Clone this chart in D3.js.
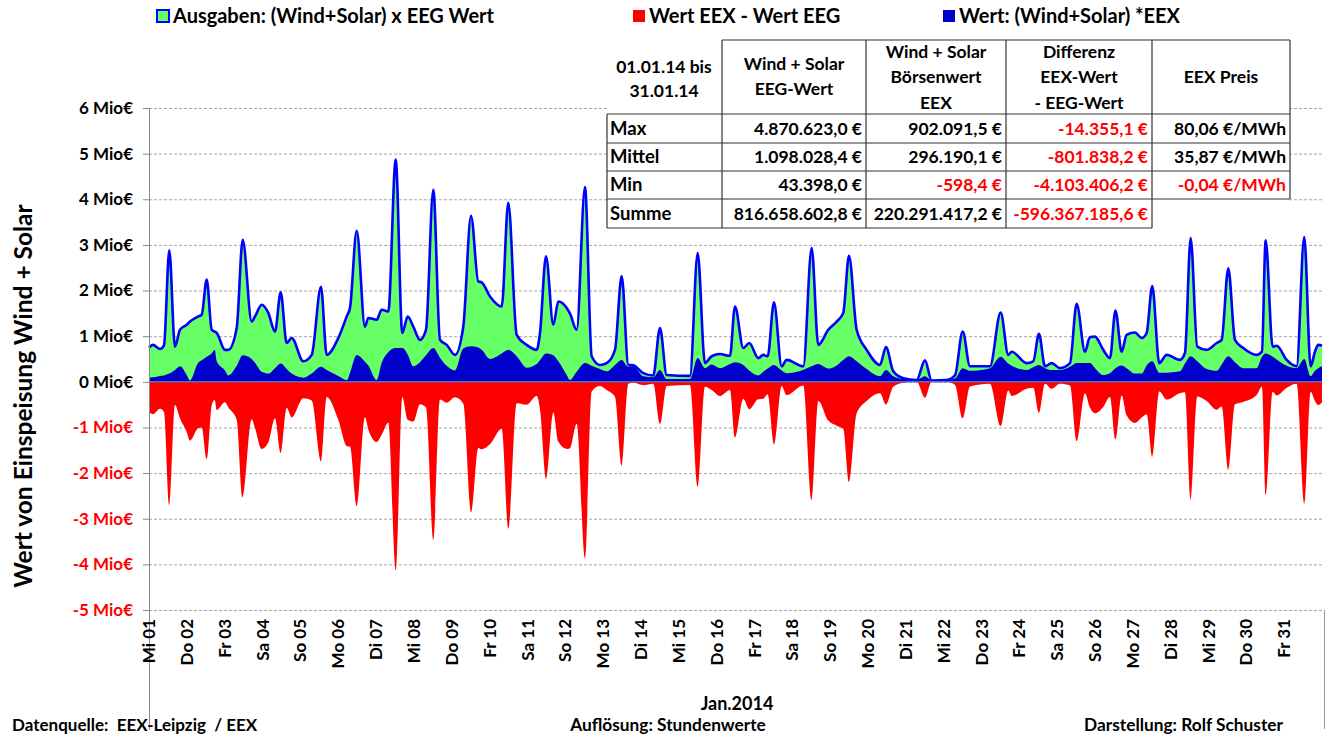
<!DOCTYPE html>
<html><head><meta charset="utf-8">
<script src="https://cdn.jsdelivr.net/npm/d3@7"></script>
<style>
html,body{margin:0;padding:0;background:#fff;}
svg text{font-family:Lato,"Open Sans",sans-serif;font-weight:bold;}
</style></head>
<body>
<svg id="chart" width="1329" height="736"></svg>
<script>
// ---- DATA (time in days since 01.01.2014 00:00, values in Mio €) ----
const days = [0,0.106,0.291,0.396,0.536,0.687,0.819,0.996,1.083,1.295,
1.393,1.525,1.657,1.736,1.789,2.008,2.096,2.318,2.476,2.714,
2.801,2.978,3.153,3.330,3.480,3.639,3.771,4.078,4.300,4.545,
4.696,5.003,5.233,5.312,5.489,5.708,5.795,6.017,6.150,6.324,
6.520,6.694,6.837,6.985,7.162,7.320,7.513,7.690,7.867,8.087,
8.306,8.510,8.702,8.792,9.012,9.321,9.495,9.717,9.981,10.246,
10.333,10.492,10.685,10.817,11.039,11.124,11.303,11.522,11.699,11.919,
12.096,12.315,12.492,12.667,12.799,13.063,13.327,13.504,13.681,14.297,
14.500,14.693,14.870,15.090,15.354,15.486,15.706,15.864,16.102,16.234,
16.350,16.517,16.720,16.852,17.291,17.513,17.688,17.952,18.174,18.348,
18.499,18.702,18.967,19.318,19.477,19.670,19.934,20.288,20.507,20.684,
21.081,21.300,21.504,21.697,22.225,22.508,22.709,22.799,23.195,23.370,
23.520,23.679,23.856,24.075,24.340,24.516,24.736,24.868,25.000,25.219,
25.396,25.541,25.705,25.837,26.057,26.234,26.366,26.514,26.699,26.895,
27.246,27.378,27.529,27.703,27.952,28.216,28.348,28.523,28.700,28.919,
29.273,29.413,29.511,29.696,29.802,30.066,30.330,30.531,30.700,30.814,
30.901,31.0];

// Ausgaben: (Wind+Solar) x EEG Wert
const eegWert = [.75,.81,.72,.80,2.88,.77,1.14,1.25,1.32,1.43,
1.47,2.24,1.14,1.10,1.07,.70,.70,1.18,3.11,1.32,
1.43,1.69,1.51,1.10,1.96,.85,.96,.45,.59,2.08,
.59,.96,1.45,1.62,3.31,1.21,1.40,1.36,1.58,1.54,
4.87,1.07,1.43,1.21,.92,1.14,4.21,.92,.81,.59,
1.21,3.64,2.20,2.18,1.87,1.65,3.92,1.03,.81,.70,
1.07,2.75,1.25,1.76,1.62,1.50,1.14,4.27,.56,.37,
.41,.70,2.32,.37,.36,.19,.14,1.18,.15,.13,
2.82,.41,.56,.61,.57,1.65,.74,.85,.52,.59,
.56,1.74,.34,.48,.34,2.93,.81,1.14,1.32,1.51,
2.76,1.14,.70,.37,.76,.23,.08,.04,.47,.03,
.04,.14,1.10,.34,.34,1.52,.59,.66,.41,.45,
1.05,.34,.41,.30,.41,1.71,.66,.98,.99,.70,
.52,1.56,.66,1.03,1.08,.96,1.07,2.10,.41,.59,
.48,.63,3.15,.77,.70,.85,.92,2.49,.92,.74,
.59,.66,3.10,.77,.79,.48,.34,3.17,.34,.66,
.81,.79];

// Wert: (Wind+Solar) * EEX
const eexWert = [.09,.10,.13,.14,.18,.26,.34,.15,.03,.41,
.47,.55,.62,.70,.45,.25,.14,.35,.58,.50,
.42,.22,.18,.30,.40,.28,.18,.09,.18,.33,
.26,.13,.04,.20,.59,.44,.36,.04,.42,.65,
.74,.74,.60,.34,.43,.58,.74,.53,.35,.25,
.73,.78,.75,.70,.50,.62,.70,.56,.31,.39,
.47,.62,.58,.45,.15,.04,.22,.41,.35,.28,
.23,.37,.48,.33,.34,.12,.10,.26,.06,.06,
.52,.30,.38,.30,.39,.43,.37,.25,.14,.22,
.29,.37,.25,.19,.26,.34,.39,.29,.36,.48,
.56,.45,.28,.12,.26,.12,.06,.04,.12,.03,
.04,.07,.30,.24,.30,.55,.40,.35,.26,.32,
.37,.30,.26,.26,.33,.41,.41,.41,.30,.15,
.19,.30,.36,.30,.18,.18,.36,.45,.20,.20,
.23,.40,.56,.45,.28,.24,.38,.56,.43,.30,
.30,.55,.62,.55,.49,.35,.30,.50,.12,.24,
.30,.34];

const dayLabels = ["Mi 01","Do 02","Fr 03","Sa 04","So 05","Mo 06","Di 07","Mi 08","Do 09","Fr 10",
"Sa 11","So 12","Mo 13","Di 14","Mi 15","Do 16","Fr 17","Sa 18","So 19","Mo 20","Di 21","Mi 22",
"Do 23","Fr 24","Sa 25","So 26","Mo 27","Di 28","Mi 29","Do 30","Fr 31"];
const yTicks = [6,5,4,3,2,1,0,-1,-2,-3,-4,-5];

const legendItems = ["Ausgaben: (Wind+Solar) x EEG Wert","Wert EEX - Wert EEG","Wert: (Wind+Solar) *EEX"];

const tableHeadFirst = ["01.01.14 bis","31.01.14"];
const tableHeads = [["Wind + Solar","EEG-Wert"],["Wind + Solar","Börsenwert","EEX"],["Differenz","EEX-Wert","- EEG-Wert"],["EEX Preis"]];
const rowLabels = ["Max","Mittel","Min","Summe"];
const colEEG = ["4.870.623,0 €","1.098.028,4 €","43.398,0 €","816.658.602,8 €"];
const colEEX = ["902.091,5 €","296.190,1 €","-598,4 €","220.291.417,2 €"];
const colDiff = ["-14.355,1 €","-801.838,2 €","-4.103.406,2 €","-596.367.185,6 €"];
const colPreis = ["80,06 €/MWh","35,87 €/MWh","-0,04 €/MWh"];

// ---- DRAW ----
const svg = d3.select("#chart");
const x = d3.scaleLinear().domain([0,31]).range([149,1322]);
const y = d3.scaleLinear().domain([-5,6]).range([610,108]);
const RED="#ff0000", GREEN="#66ff66", DBLUE="#0000cc", BLUE="#0000ff";

const pts = days.map((d,i)=>({d, g:eegWert[i], b:eexWert[i], r:eexWert[i]-eegWert[i]}));

// gridlines
svg.append("g").selectAll("line").data(yTicks).join("line")
  .attr("x1",149).attr("x2",1322).attr("y1",d=>y(d)+0.5).attr("y2",d=>y(d)+0.5)
  .attr("stroke","#a6a6a6").attr("stroke-width",1).attr("stroke-dasharray","3,2");
// y ticks
svg.append("g").selectAll("line").data(yTicks).join("line")
  .attr("x1",143).attr("x2",149).attr("y1",d=>y(d)+0.5).attr("y2",d=>y(d)+0.5)
  .attr("stroke","#888");
// y tick labels
svg.append("g").selectAll("text").data(yTicks).join("text")
  .attr("x",133).attr("y",d=>y(d)).attr("dy","0.35em").attr("text-anchor","end")
  .attr("font-size",17).attr("fill",d=>d<0?RED:"#000").text(d=>d+" Mio€");

const curve = d3.curveMonotoneX;
svg.append("path").datum(pts).attr("fill",GREEN)
  .attr("d",d3.area().curve(curve).x(p=>x(p.d)).y0(y(0)).y1(p=>y(p.g)));
svg.append("path").datum(pts).attr("fill",DBLUE)
  .attr("d",d3.area().curve(curve).x(p=>x(p.d)).y0(y(0)).y1(p=>y(p.b)));
svg.append("path").datum(pts).attr("fill","none").attr("stroke",BLUE).attr("stroke-width",2.6)
  .attr("stroke-linejoin","round")
  .attr("d",d3.line().curve(curve).x(p=>x(p.d)).y(p=>y(p.g)));
svg.append("path").datum(pts).attr("fill",RED)
  .attr("d",d3.area().curve(curve).x(p=>x(p.d)).y0(y(0)).y1(p=>y(p.r)));
// zero line
svg.append("line").attr("x1",149).attr("x2",1322).attr("y1",y(0)).attr("y2",y(0))
  .attr("stroke","#5b6fb5").attr("stroke-width",1.5);

// axes lines
svg.append("line").attr("x1",149.5).attr("x2",149.5).attr("y1",108).attr("y2",730).attr("stroke","#888");
svg.append("line").attr("x1",1324.5).attr("x2",1324.5).attr("y1",610).attr("y2",729).attr("stroke","#999");

// x labels
svg.append("g").selectAll("text").data(dayLabels).join("text")
  .attr("transform",(d,i)=>`translate(${x(i)},619) rotate(-90)`)
  .attr("text-anchor","end").attr("dy","0.36em").attr("font-size",17).text(d=>d);

svg.append("text").attr("x",737).attr("y",710).attr("text-anchor","middle").attr("font-size",18).text("Jan.2014");

// y title
svg.append("text").attr("transform","translate(32,396) rotate(-90)").attr("text-anchor","middle")
  .attr("font-size",24.5).text("Wert von Einspeisung Wind + Solar");

// footer
svg.append("text").attr("x",12).attr("y",731).attr("font-size",17).attr("xml:space","preserve").text("Datenquelle:  EEX-Leipzig  / EEX");
svg.append("text").attr("x",668).attr("y",731).attr("text-anchor","middle").attr("font-size",17.3).text("Auflösung: Stundenwerte");
svg.append("text").attr("x",1283).attr("y",731).attr("text-anchor","end").attr("font-size",17.3).text("Darstellung: Rolf Schuster");

// legend
const legX = [157,633,943], legCol=[GREEN,RED,DBLUE];
legendItems.forEach((t,i)=>{
  const sq = svg.append("rect").attr("x",legX[i]).attr("y",10).attr("width",12).attr("height",12).attr("fill",legCol[i]);
  if(i===0) sq.attr("stroke",BLUE).attr("stroke-width",2);
  svg.append("text").attr("x",legX[i]+16).attr("y",23).attr("font-size",20).text(t);
});

// table
const T = svg.append("g");
T.append("rect").attr("x",607).attr("y",40).attr("width",683).attr("height",188).attr("fill","#fff");
const colX=[607,722,866,1006,1152,1290];
const rowY=[114,143,171,199,228];
const lc="#333";
const ln=(x1,y1,x2,y2)=>T.append("line").attr("x1",x1).attr("y1",y1).attr("x2",x2).attr("y2",y2).attr("stroke",lc).attr("stroke-width",1.2);
ln(722,40,1290,40);
[722,866,1006,1152].forEach(c=>ln(c,40,c,228));
ln(1290,40,1290,199);
ln(607,114,607,228);
rowY.forEach((r,i)=>ln(607,r,i===4?1152:1290,r));
const fs=17.5;
tableHeadFirst.forEach((t,i)=>T.append("text").attr("x",664).attr("y",67+i*24).attr("dy","0.35em").attr("text-anchor","middle").attr("font-size",fs).text(t));
const headYs=[[64,89],[52,77,103],[52,77,103],[77]];
tableHeads.forEach((lines,c)=>lines.forEach((t,k)=>T.append("text")
  .attr("x",(colX[c+1]+colX[c+2])/2).attr("y",headYs[c][k]).attr("dy","0.35em").attr("text-anchor","middle").attr("font-size",fs).text(t)));
const rowMid=[129,157,185,214];
rowLabels.forEach((t,i)=>T.append("text").attr("x",610).attr("y",rowMid[i]).attr("dy","0.35em").attr("font-size",18.5).text(t));
const cols=[colEEG,colEEX,colDiff,colPreis];
cols.forEach((col,c)=>col.forEach((t,i)=>T.append("text")
  .attr("x",colX[c+2]-4).attr("y",rowMid[i]).attr("dy","0.35em").attr("text-anchor","end").attr("font-size",fs)
  .attr("fill",t.startsWith("-")?RED:"#000").text(t)));
</script>
</body></html>
